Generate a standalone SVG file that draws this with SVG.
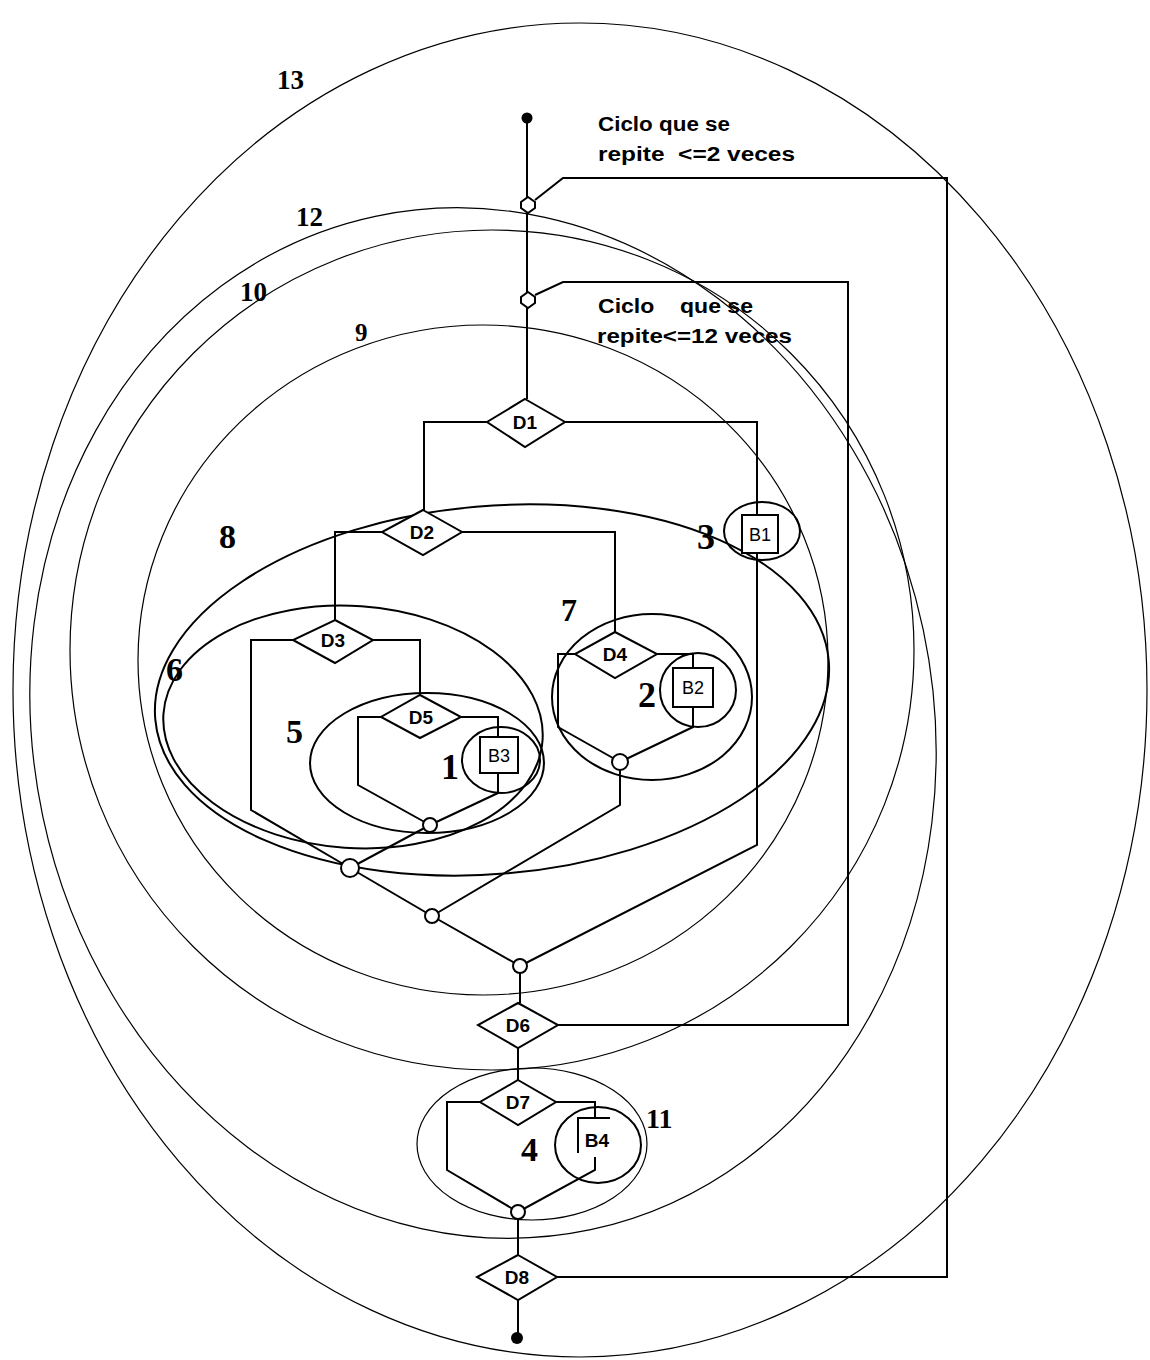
<svg xmlns="http://www.w3.org/2000/svg" width="1150" height="1360" viewBox="0 0 1150 1360">
<style>
.reg{fill:none;stroke:#000;stroke-width:1.2}
.regb{fill:none;stroke:#000;stroke-width:2}
.ln{fill:none;stroke:#000;stroke-width:2;stroke-linejoin:miter}
.dia{fill:#fff;stroke:#000;stroke-width:2}
.box{fill:#fff;stroke:#000;stroke-width:2}
.jn{fill:#fff;stroke:#000;stroke-width:2}
.nt{font-family:"Liberation Sans",Arial,sans-serif;font-weight:bold;font-size:19px;text-anchor:middle}
.bt{font-family:"Liberation Sans",Arial,sans-serif;font-size:18px;text-anchor:middle}
.num{font-family:"Liberation Serif","Times New Roman",serif;font-weight:bold}
.cap{font-family:"Liberation Sans",Arial,sans-serif;font-weight:bold;font-size:20px}
</style>
<rect width="1150" height="1360" fill="#fff"/>
<g id="regions">
<ellipse id="r13" class="reg" cx="580" cy="690" rx="567" ry="667"/>
<ellipse id="r12" class="reg" cx="483" cy="723" rx="450" ry="518" transform="rotate(-12 483 723)"/>
<ellipse id="r10" class="reg" cx="492" cy="650" rx="422" ry="420"/>
<ellipse id="r9" class="reg" cx="483" cy="660" rx="345" ry="335"/>
<ellipse id="r8" class="regb" cx="492" cy="690" rx="338" ry="184" transform="rotate(-5 492 690)"/>
<ellipse id="r6" class="regb" cx="353" cy="727" rx="190" ry="121" transform="rotate(4 353 727)"/>
<ellipse id="r5" class="regb" cx="427" cy="763" rx="117" ry="70"/>
<ellipse id="r1" class="regb" cx="501" cy="760" rx="39" ry="33"/>
<ellipse id="r7" class="regb" cx="652" cy="697" rx="100" ry="83"/>
<ellipse id="r2" class="regb" cx="698" cy="690" rx="38" ry="37"/>
<ellipse id="r3" class="regb" cx="762" cy="531" rx="38" ry="29"/>
<ellipse id="r11" class="reg" cx="532" cy="1144" rx="115" ry="76"/>
<ellipse id="r4" class="regb" cx="598" cy="1145" rx="43" ry="38"/>
</g>
<g id="connectors">
<path class="ln" d="M527 118 V300 V399"/>
<path class="ln" d="M535 200 L563 178 H947 V1277 H557"/>
<path class="ln" d="M535 295 L563 282 H848 V1025 H558"/>
<path class="ln" d="M487 422 H424 V510"/>
<path class="ln" d="M565 422 H757 V515"/>
<path class="ln" d="M757 553 V845 L520 966"/>
<path class="ln" d="M382 532 H335 V620"/>
<path class="ln" d="M462 532 H615 V632"/>
<path class="ln" d="M293 640 H251 V810 L350 868"/>
<path class="ln" d="M373 640 H420 V695"/>
<path class="ln" d="M381 717 H358 V785 L430 825"/>
<path class="ln" d="M461 717 H498 V737"/>
<path class="ln" d="M498 773 V793 L430 825"/>
<path class="ln" d="M430 825 L350 868"/>
<path class="ln" d="M350 868 L432 916"/>
<path class="ln" d="M575 654 H558 V727 L620 762"/>
<path class="ln" d="M657 654 H693 V668"/>
<path class="ln" d="M693 707 V727 L620 762"/>
<path class="ln" d="M620 762 V805 L432 916"/>
<path class="ln" d="M432 916 L520 966 V1003"/>
<path class="ln" d="M518 1048 V1080"/>
<path class="ln" d="M480 1102 H447 V1170 L518 1212"/>
<path class="ln" d="M556 1102 H595 V1118"/>
<path class="ln" d="M595 1157 V1170 L518 1212"/>
<path class="ln" d="M518 1212 V1255"/>
<path class="ln" d="M518 1300 V1338"/>
</g>
<g id="start"><circle cx="527" cy="118" r="5.5" fill="#000"/></g>
<g id="end"><circle cx="517" cy="1338" r="6" fill="#000"/></g>
<g id="loop2"><polygon class="dia" points="528,197 535,202 535,208 528,213 521,208 521,202"/></g>
<g id="loop12"><polygon class="dia" points="528,292 535,297 535,303 528,308 521,303 521,297"/></g>
<g id="D1"><polygon class="dia" points="525,399 565,422 525,447 487,422"/><text class="nt" x="525" y="429">D1</text></g>
<g id="D2"><polygon class="dia" points="423,510 462,532 423,555 382,532"/><text class="nt" x="422" y="539">D2</text></g>
<g id="D3"><polygon class="dia" points="335,620 373,640 335,663 293,640"/><text class="nt" x="333" y="647">D3</text></g>
<g id="D5"><polygon class="dia" points="420,695 461,717 420,738 381,717"/><text class="nt" x="421" y="724">D5</text></g>
<g id="D4"><polygon class="dia" points="615,632 657,654 615,678 575,654"/><text class="nt" x="615" y="661">D4</text></g>
<g id="D6"><polygon class="dia" points="518,1003 558,1025 518,1048 478,1025"/><text class="nt" x="518" y="1032">D6</text></g>
<g id="D7"><polygon class="dia" points="518,1080 556,1102 518,1125 480,1102"/><text class="nt" x="518" y="1109">D7</text></g>
<g id="D8"><polygon class="dia" points="518,1255 557,1277 518,1300 477,1277"/><text class="nt" x="517" y="1284">D8</text></g>
<g id="B1"><rect class="box" x="742" y="515" width="36" height="38"/><text class="bt" x="760" y="541">B1</text></g>
<g id="B2"><rect class="box" x="673" y="668" width="40" height="39"/><text class="bt" x="693" y="694">B2</text></g>
<g id="B3"><rect class="box" x="480" y="737" width="38" height="36"/><text class="bt" x="499" y="762">B3</text></g>
<g id="B4"><path class="ln" d="M578 1153 V1118 H610"/><text class="nt" x="597" y="1147">B4</text></g>
<g id="J1"><circle class="jn" cx="430" cy="825" r="7"/></g>
<g id="J2"><circle class="jn" cx="350" cy="868" r="9"/></g>
<g id="J3"><circle class="jn" cx="620" cy="762" r="8"/></g>
<g id="J4"><circle class="jn" cx="432" cy="916" r="7"/></g>
<g id="J5"><circle class="jn" cx="520" cy="966" r="7"/></g>
<g id="J6"><circle class="jn" cx="518" cy="1212" r="7"/></g>
<g id="labels">
<text class="num" x="277" y="89" font-size="27">13</text>
<text class="num" x="296" y="226" font-size="27">12</text>
<text class="num" x="240" y="301" font-size="27">10</text>
<text class="num" x="355" y="341" font-size="25">9</text>
<text class="num" x="219" y="548" font-size="34">8</text>
<text class="num" x="166" y="681" font-size="34">6</text>
<text class="num" x="286" y="743" font-size="34">5</text>
<text class="num" x="561" y="621" font-size="32">7</text>
<text class="num" x="638" y="707" font-size="36">2</text>
<text class="num" x="441" y="779" font-size="36">1</text>
<text class="num" x="697" y="549" font-size="36">3</text>
<text class="num" x="521" y="1161" font-size="34">4</text>
<text class="num" x="646" y="1128" font-size="28">11</text>
<text class="cap" x="598" y="131" textLength="132" lengthAdjust="spacingAndGlyphs">Ciclo que se</text>
<text class="cap" x="598" y="161" textLength="197" lengthAdjust="spacingAndGlyphs" xml:space="preserve">repite  &lt;=2 veces</text>
<text class="cap" x="598" y="313" textLength="155" lengthAdjust="spacingAndGlyphs" xml:space="preserve">Ciclo    que se</text>
<text class="cap" x="597" y="343" textLength="195" lengthAdjust="spacingAndGlyphs">repite&lt;=12 veces</text>
</g>
</svg>
